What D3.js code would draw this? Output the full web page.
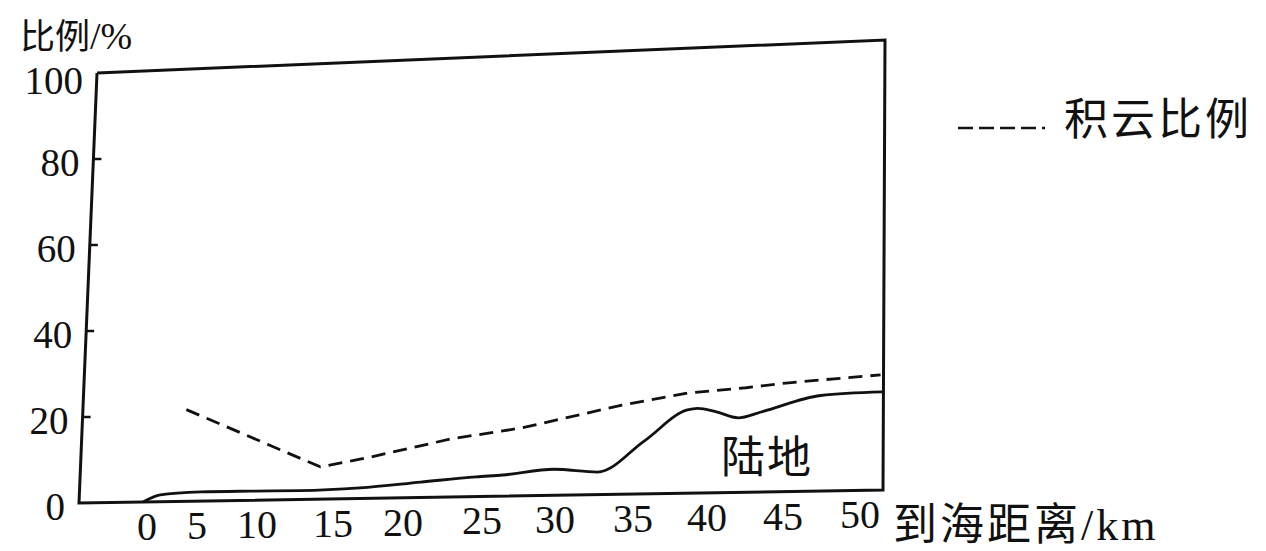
<!DOCTYPE html>
<html>
<head>
<meta charset="utf-8">
<script src="https://cdn.jsdelivr.net/npm/d3@7"></script>
<style>
  body { margin: 0; background: #fff; }
  svg { display: block; }
  text { font-family: "Liberation Serif", "Noto Sans CJK SC", serif; fill: #111; }
</style>
</head>
<body>
<div id="chart"></div>
<script>
"use strict";

// distance to sea (km) and share (%)
var kmTicks = [0, 5, 10, 15, 20, 25, 30, 35, 40, 45, 50];
var pctTicks = [0, 20, 40, 60, 80, 100];

var cloudKm  = [3.6, 14.1, 17.4, 22.9, 27.6, 34.2, 38.6, 42.5, 45.3, 51.3];
var cloudPct = [21.2, 7.4, 9.3, 13.2, 15.4, 20.1, 22.5, 23.4, 24.3, 25.6];

var landKm  = [-0.4, 1.3, 5.3, 9.4, 12.8, 16.9, 21.1, 24.6, 26.4, 29.9, 32.7, 35.7, 38.6, 39.3, 40.5, 42.0, 43.5, 47.4, 51.4];
var landPct = [0, 1.6, 2.1, 2.1, 2.0, 2.4, 3.5, 4.5, 4.8, 5.9, 5.1, 11.9, 18.7, 19.0, 18.2, 16.7, 17.9, 21.3, 21.8];


function Chart(container) {
  var W = 1266, H = 551;
  // the scanned frame is not square, so points are placed inside this quad
  var corner = {tl: [97, 73], tr: [885, 40], bl: [79, 503], br: [883, 490]};
  var svg = d3.select(container).append('svg').attr('width', W).attr('height', H);

  var x = d3.scaleLinear()
    .domain(kmTicks)
    .range([147, 197, 257, 333, 403, 482, 555, 633, 707, 783, 860]);
  var y = d3.scaleLinear().domain([0, 100]).range([0, 1]);

  function quad(u, v) {
    var c = corner;
    return [
      (1-u)*(1-v)*c.bl[0] + u*(1-v)*c.br[0] + (1-u)*v*c.tl[0] + u*v*c.tr[0],
      (1-u)*(1-v)*c.bl[1] + u*(1-v)*c.br[1] + (1-u)*v*c.tl[1] + u*v*c.tr[1]
    ];
  }

  function warp(km, pct) {
    var u = (x(km) - corner.bl[0]) / (corner.br[0] - corner.bl[0]);
    return quad(u, y(pct));
  }

  function zip(ks, ps) {
    return ks.map(function(k, i) { return warp(k, ps[i]); });
  }

  // frame
  svg.append('path')
    .attr('d', d3.line()([quad(0, 1), quad(0, 0), quad(1, 0), quad(1, 1), quad(0, 1)]))
    .attr('fill', 'none')
    .attr('stroke', '#111')
    .attr('stroke-width', 3)
    .attr('stroke-linejoin', 'miter');

  // y ticks, pointing inward
  svg.selectAll('line.ytick')
    .data(pctTicks.filter(function(t) { return t > 0 && t < 100; }))
    .enter()
      .append('line')
        .attr('class', 'ytick')
        .attr('x1', function(d) { return quad(0, y(d))[0]; })
        .attr('y1', function(d) { return quad(0, y(d))[1]; })
        .attr('x2', function(d) { return quad(0, y(d))[0] + 8; })
        .attr('y2', function(d) { return quad(0, y(d))[1]; })
        .attr('stroke', '#111')
        .attr('stroke-width', 2.5);

  svg.selectAll('text.ylab')
    .data(pctTicks)
    .enter()
      .append('text')
        .attr('class', 'ylab')
        .attr('x', function(d) { return quad(0, y(d))[0] - 14; })
        .attr('y', function(d) { return quad(0, y(d))[1] + (d === 100 ? 7 : 3); })
        .attr('dy', '0.35em')
        .attr('text-anchor', 'end')
        .attr('font-size', 39)
        .text(function(d) { return d; });

  svg.selectAll('text.xlab')
    .data(kmTicks)
    .enter()
      .append('text')
        .attr('class', 'xlab')
        .attr('x', function(d) { return x(d); })
        .attr('y', function(d) { return warp(d, 0)[1] + 24; })
        .attr('dy', '0.35em')
        .attr('text-anchor', 'middle')
        .attr('font-size', 40)
        .text(function(d) { return d; });

  // land surface
  svg.append('path')
    .attr('d', d3.line().curve(d3.curveMonotoneX)(zip(landKm, landPct)))
    .attr('fill', 'none')
    .attr('stroke', '#111')
    .attr('stroke-width', 2.8);

  // cumulus share
  svg.append('path')
    .attr('d', d3.line()(zip(cloudKm, cloudPct)))
    .attr('fill', 'none')
    .attr('stroke', '#111')
    .attr('stroke-width', 2.8)
    .attr('stroke-dasharray', '14,8');

  // legend
  svg.append('line')
    .attr('x1', 958).attr('y1', 128).attr('x2', 1045).attr('y2', 128)
    .attr('stroke', '#111')
    .attr('stroke-width', 2.5)
    .attr('stroke-dasharray', '15,6');

  svg.append('text')
    .attr('x', 1064).attr('y', 135)
    .attr('font-size', 44)
    .attr('letter-spacing', 3)
    .text('积云比例');

  var title = svg.append('text')
    .attr('x', 20).attr('y', 49)
    .attr('font-size', 35);
  title.append('tspan').text('比例');
  title.append('tspan').attr('font-size', 38).text('/%');

  svg.append('text')
    .attr('x', 893).attr('y', 540)
    .attr('font-size', 44)
    .attr('letter-spacing', 3)
    .text('到海距离/km');

  svg.append('text')
    .attr('x', 721).attr('y', 473)
    .attr('font-size', 44)
    .attr('letter-spacing', 2)
    .text('陆地');

  return svg;
}

Chart('#chart');
</script>
</body>
</html>
